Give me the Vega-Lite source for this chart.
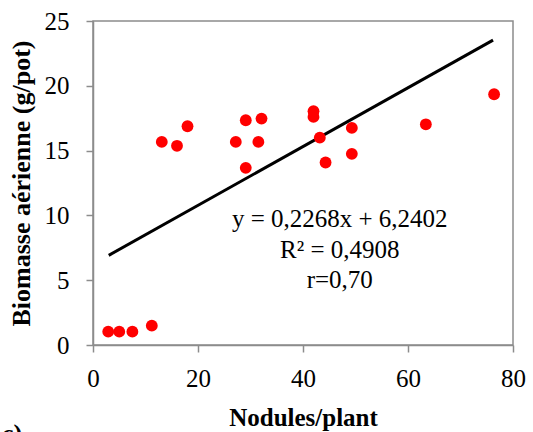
{
  "$schema": "https://vega.github.io/schema/vega-lite/v6.json",
  "width": 420,
  "height": 324,
  "autosize": "none",
  "padding": {"left": 93, "top": 21, "right": 20, "bottom": 87},
  "background": "white",
  "config": {
    "view": {"stroke": "#8c8c8c", "strokeWidth": 1.5},
    "font": "Liberation Serif"
  },
  "title": {
    "text": "c)",
    "orient": "bottom",
    "anchor": "start",
    "frame": "group",
    "dx": -91,
    "offset": -9,
    "font": "Liberation Serif",
    "fontSize": 26,
    "fontWeight": "bold",
    "color": "black"
  },
  "datasets": {
    "points": [
      {"nodules": 2.9, "biomasse": 1.03},
      {"nodules": 5.0, "biomasse": 1.03},
      {"nodules": 7.5, "biomasse": 1.03},
      {"nodules": 11.2, "biomasse": 1.49},
      {"nodules": 13.1, "biomasse": 15.67},
      {"nodules": 16.0, "biomasse": 15.37},
      {"nodules": 18.0, "biomasse": 16.88},
      {"nodules": 27.2, "biomasse": 15.67},
      {"nodules": 29.1, "biomasse": 17.34},
      {"nodules": 29.1, "biomasse": 13.67},
      {"nodules": 31.5, "biomasse": 15.67},
      {"nodules": 32.1, "biomasse": 17.47},
      {"nodules": 42.0, "biomasse": 18.04},
      {"nodules": 42.0, "biomasse": 17.6},
      {"nodules": 43.2, "biomasse": 16.0},
      {"nodules": 44.3, "biomasse": 14.08},
      {"nodules": 49.3, "biomasse": 16.75},
      {"nodules": 49.3, "biomasse": 14.75},
      {"nodules": 63.4, "biomasse": 17.03},
      {"nodules": 76.4, "biomasse": 19.35}
    ],
    "trend": [
      {"nodules": 3.0, "biomasse": 6.92},
      {"nodules": 76.2, "biomasse": 23.52}
    ],
    "labels": [
      {"nodules": 47.0, "biomasse": 9.76, "label": "y = 0,2268x  + 6,2402"},
      {"nodules": 47.0, "biomasse": 7.32, "label": "R² = 0,4908"},
      {"nodules": 47.0, "biomasse": 5.01, "label": "r=0,70"}
    ]
  },
  "encoding": {
    "x": {
      "field": "nodules",
      "type": "quantitative",
      "scale": {"domain": [0, 80], "nice": false, "zero": false},
      "axis": {
        "title": "Nodules/plant",
        "values": [0, 20, 40, 60, 80],
        "grid": false,
        "domainColor": "#8c8c8c",
        "domainWidth": 1.5,
        "tickColor": "#8c8c8c",
        "tickWidth": 1.5,
        "tickSize": 7,
        "labelPadding": 14,
        "labelFont": "Liberation Serif",
        "labelFontSize": 25,
        "labelColor": "black",
        "labelFlush": false,
        "titleFont": "Liberation Serif",
        "titleFontSize": 25,
        "titleFontWeight": "bold",
        "titleColor": "black",
        "titlePadding": 14
      }
    },
    "y": {
      "field": "biomasse",
      "type": "quantitative",
      "scale": {"domain": [0, 25], "nice": false},
      "axis": {
        "title": "Biomasse aérienne (g/pot)",
        "values": [0, 5, 10, 15, 20, 25],
        "grid": false,
        "domainColor": "#8c8c8c",
        "domainWidth": 1.5,
        "tickColor": "#8c8c8c",
        "tickWidth": 1.5,
        "tickSize": 7,
        "labelPadding": 17,
        "labelFont": "Liberation Serif",
        "labelFontSize": 25,
        "labelColor": "black",
        "labelFlush": false,
        "titleFont": "Liberation Serif",
        "titleFontSize": 26,
        "titleFontWeight": "bold",
        "titleColor": "black",
        "titlePadding": 10
      }
    }
  },
  "layer": [
    {
      "data": {"name": "trend"},
      "mark": {"type": "line", "color": "black", "strokeWidth": 3}
    },
    {
      "data": {"name": "points"},
      "mark": {"type": "circle", "color": "#ff0000", "opacity": 1, "size": 140}
    },
    {
      "data": {"name": "labels"},
      "mark": {"type": "text", "font": "Liberation Serif", "fontSize": 25, "color": "black", "align": "center", "baseline": "middle"},
      "encoding": {"text": {"field": "label", "type": "nominal"}}
    }
  ]
}
